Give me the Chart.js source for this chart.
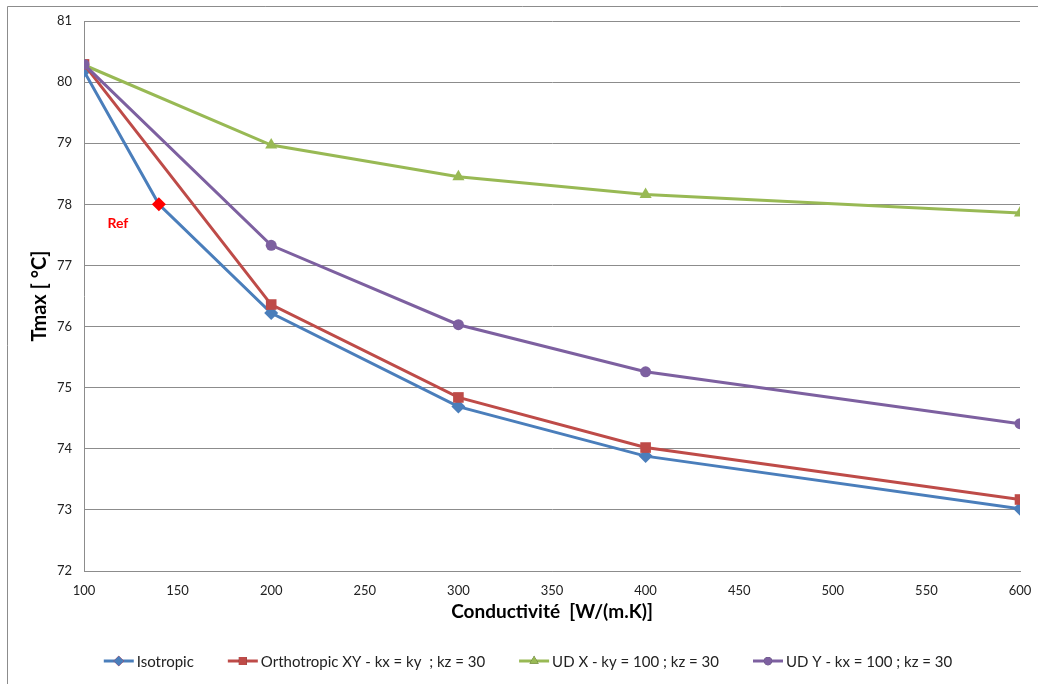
<!DOCTYPE html>
<html lang="fr">
<head>
<meta charset="UTF-8">
<title>Tmax vs conductivité</title>
<script src="https://cdn.jsdelivr.net/npm/chart.js"></script>
<style>
  html, body { margin: 0; padding: 0; background: #fff; }
  #wrap { width: 1038px; height: 684px; position: relative; }
</style>
</head>
<body>
<div id="wrap"><canvas id="chart" width="1038" height="684"></canvas></div>
<script>
// data
const conductivity = [100, 140, 200, 300, 400, 600];
const conductivityNoRef = [100, 200, 300, 400, 600];
const isotropic = [80.18, 78.0, 76.22, 74.69, 73.88, 73.02];
const orthoXY = [80.29, 76.36, 74.84, 74.02, 73.17];
const udX = [80.28, 78.97, 78.45, 78.16, 77.86];
const udY = [80.29, 77.33, 76.03, 75.26, 74.41];
const seriesNames = [
  'Isotropic',
  'Orthotropic XY - kx = ky  ; kz = 30',
  'UD X - ky = 100 ; kz = 30',
  'UD Y - kx = 100 ; kz = 30'
];
const refX = 140;
const refLabel = 'Ref';

const FONT = 'Lato, "Open Sans", sans-serif';
const blue = '#4A7EBB', red = '#BE4B48', green = '#98B954', purple = '#7D60A0';

function pts(xs, ys) {
  return xs.map((x, i) => ({ x: x, y: ys[i] }));
}

// blue diamonds, except the reference one in pure red
const isoFill = conductivity.map(x => x === refX ? '#FF0000' : blue);

// frame, "Ref" label and a legend with line + marker
const extras = {
  id: 'extras',
  beforeDraw(chart) {
    const ctx = chart.ctx;
    ctx.save();
    ctx.fillStyle = '#fff';
    ctx.fillRect(0, 0, chart.width, chart.height);
    ctx.strokeStyle = '#8c8c8c';
    ctx.lineWidth = 1;
    ctx.beginPath();
    ctx.moveTo(7.5, chart.height);
    ctx.lineTo(7.5, 6.5);
    ctx.lineTo(chart.width, 6.5);
    ctx.stroke();
    ctx.restore();
  },
  afterDraw(chart) {
    const ctx = chart.ctx;
    const xs = chart.scales.x, ys = chart.scales.y;
    ctx.save();
    ctx.fillStyle = '#FF0000';
    ctx.font = 'bold 14px ' + FONT;
    ctx.textAlign = 'center';
    ctx.textBaseline = 'middle';
    ctx.fillText(refLabel, xs.getPixelForValue(refX) - 41, ys.getPixelForValue(78) + 19);

    // legend
    ctx.font = '15px ' + FONT;
    ctx.textAlign = 'left';
    const lineLen = 30, gap = 3, itemGap = 34, ly = 661;
    const order = [0, 1, 2, 3];
    let total = 0;
    order.forEach((k, i) => {
      total += lineLen + gap + ctx.measureText(seriesNames[k]).width + (i < 3 ? itemGap : 0);
    });
    let x = 528 - total / 2;
    order.forEach(k => {
      const ds = chart.data.datasets.find(d => d.label === seriesNames[k]);
      ctx.strokeStyle = ds.borderColor;
      ctx.lineWidth = 3;
      ctx.beginPath();
      ctx.moveTo(x, ly);
      ctx.lineTo(x + lineLen, ly);
      ctx.stroke();
      const col = Array.isArray(ds.pointBackgroundColor) ? ds.borderColor : ds.pointBackgroundColor;
      Chart.helpers.drawPoint(ctx, {
        pointStyle: ds.pointStyle, radius: ds.pointRadius * 0.75, rotation: 0, borderWidth: 0
      }, x + lineLen / 2, ly);
      ctx.fillStyle = col;
      ctx.fill();
      ctx.fillStyle = '#222';
      ctx.fillText(seriesNames[k], x + lineLen + gap, ly + 1);
      x += lineLen + gap + ctx.measureText(seriesNames[k]).width + itemGap;
    });
    ctx.restore();
  }
};

new Chart(document.getElementById('chart'), {
  type: 'line',
  data: {
    datasets: [
      {
        label: seriesNames[0], data: pts(conductivity, isotropic),
        borderColor: blue, pointBackgroundColor: isoFill, pointBorderColor: isoFill,
        pointStyle: 'rectRot', pointRadius: 7, order: 3
      },
      {
        label: seriesNames[1], data: pts(conductivityNoRef, orthoXY),
        borderColor: red, pointBackgroundColor: red, pointBorderColor: red,
        pointStyle: 'rect', pointRadius: 7.5, order: 2
      },
      {
        label: seriesNames[2], data: pts(conductivityNoRef, udX),
        borderColor: green, pointBackgroundColor: green, pointBorderColor: green,
        pointStyle: 'triangle', pointRadius: 7, order: 1
      },
      {
        label: seriesNames[3], data: pts(conductivityNoRef, udY),
        borderColor: purple, pointBackgroundColor: purple, pointBorderColor: purple,
        pointStyle: 'circle', pointRadius: 5.5, order: 0
      }
    ]
  },
  options: {
    responsive: false,
    animation: false,
    devicePixelRatio: 1,
    layout: { padding: { left: 0, right: 18, top: 21, bottom: 0 } },
    elements: {
      line: { borderWidth: 3, tension: 0, fill: false },
      point: { borderWidth: 0, hoverRadius: 6 }
    },
    plugins: {
      legend: { display: false },
      tooltip: { enabled: false }
    },
    scales: {
      x: {
        type: 'linear',
        min: 100, max: 600,
        afterFit(s) { s.height = 113; s.paddingLeft = 0; s.paddingRight = 0; },
        grid: { display: false, drawTicks: false },
        border: { display: true, color: '#8c8c8c', width: 1 },
        ticks: {
          stepSize: 50, padding: 12, color: '#222',
          font: { family: FONT, size: 13 }
        },
        title: {
          display: true, text: 'Conductivité  [W/(m.K)]', color: '#000',
          font: { family: FONT, size: 19, weight: 'bold' },
          padding: { top: 0, bottom: 61 }
        }
      },
      y: {
        min: 72, max: 81,
        afterFit(s) { s.width = 84; s.paddingTop = 0; s.paddingBottom = 0; },
        grid: { color: '#8c8c8c', lineWidth: 1, drawTicks: false },
        border: { display: true, color: '#8c8c8c', width: 1 },
        ticks: {
          stepSize: 1, padding: 12, color: '#222',
          font: { family: FONT, size: 13 }
        },
        title: {
          display: true, text: 'Tmax [ °C]', color: '#000',
          font: { family: FONT, size: 20, weight: 'bold' },
          padding: { top: 28, bottom: 0 }
        }
      }
    }
  },
  plugins: [extras]
});
</script>
</body>
</html>
